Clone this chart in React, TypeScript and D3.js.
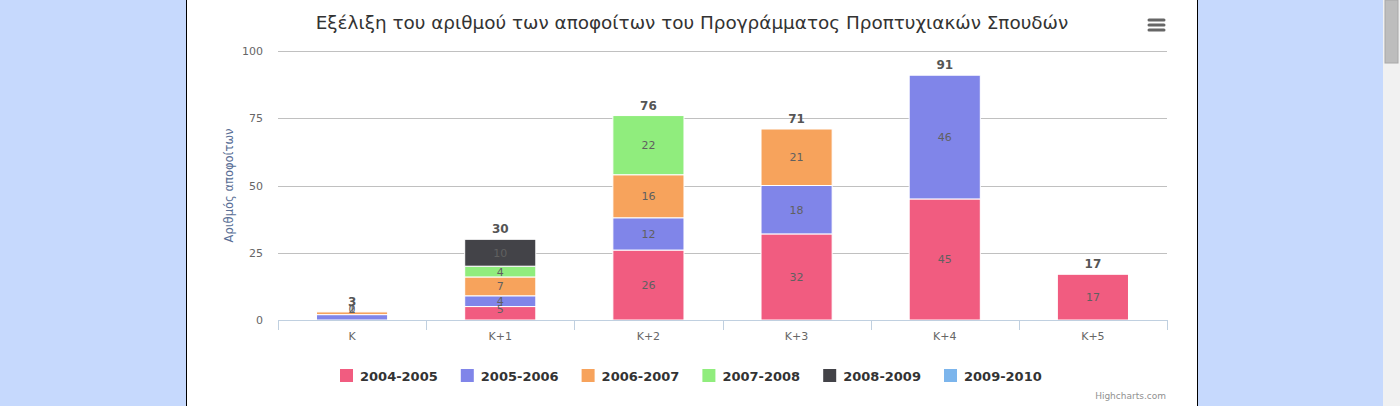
import React, { useEffect, useRef } from 'react';
import * as d3 from 'd3';

// categories on the x axis
const categories = ['K', 'K+1', 'K+2', 'K+3', 'K+4', 'K+5'];

// one array per graduation year, null = no data
const series2004 = [0, 5, 26, 32, 45, 17];
const series2005 = [2, 4, 12, 18, 46, null];
const series2006 = [1, 7, 16, 21, null, null];
const series2007 = [null, 4, 22, null, null, null];
const series2008 = [null, 10, null, null, null, null];
const series2009 = [null, null, null, null, null, null];

const seriesNames = ['2004-2005', '2005-2006', '2006-2007', '2007-2008', '2008-2009', '2009-2010'];
const seriesColors = ['#f15c80', '#8085e9', '#f7a35c', '#90ed7d', '#434348', '#7cb5ec'];
const yTicks = [0, 25, 50, 75, 100];

const titleText = 'Εξέλιξη του αριθμού των αποφοίτων του Προγράμματος Προπτυχιακών Σπουδών';
const yTitle = 'Αριθμός αποφοίτων';

export default function App() {
    const ref = useRef<SVGSVGElement | null>(null);

    useEffect(() => {
        const svg = d3.select(ref.current);
        svg.selectAll('*').remove();
        const font = '"DejaVu Sans", Verdana, sans-serif';

        // page background + white panel
        svg.append('rect').attr('width', 1400).attr('height', 406).attr('fill', '#c6d9fd');
        svg.append('rect').attr('x', 186).attr('width', 1012).attr('height', 406).attr('fill', '#fff');
        svg.append('line').attr('x1', 186.5).attr('x2', 186.5).attr('y1', 0).attr('y2', 406).attr('stroke', '#000');
        svg.append('line').attr('x1', 1197.5).attr('x2', 1197.5).attr('y1', 0).attr('y2', 406).attr('stroke', '#000');

        // fake scrollbar
        svg.append('rect').attr('x', 1383).attr('width', 17).attr('height', 406).attr('fill', '#f1f1f1');
        svg.append('rect').attr('x', 1385).attr('y', 0).attr('width', 13).attr('height', 63)
            .attr('fill', '#bdbdbd').attr('stroke', '#a8a8a8');

        const allSeries = [series2004, series2005, series2006, series2007, series2008, series2009];
        const rows = categories.map((c, i) => {
            const r: any = { cat: c };
            seriesNames.forEach((s, j) => { r[s] = allSeries[j][i] == null ? 0 : allSeries[j][i]; });
            return r;
        });

        const margin = { left: 278, right: 233, top: 51, bottom: 86 };
        const width = 1400 - margin.left - margin.right;
        const height = 406 - margin.top - margin.bottom;

        const x = d3.scaleBand().domain(categories).range([0, width]).paddingInner(0).paddingOuter(0);
        const y = d3.scaleLinear().domain([0, 100]).range([height, 0]);
        const barW = x.bandwidth() * 0.48;

        const g = svg.append('g').attr('transform', 'translate(' + margin.left + ',' + margin.top + ')');

        // grid lines
        g.selectAll('.grid').data(yTicks.slice(1)).enter().append('line')
            .attr('x1', 0).attr('x2', width)
            .attr('y1', d => Math.round(y(d)) + 0.5).attr('y2', d => Math.round(y(d)) + 0.5)
            .attr('stroke', '#c0c0c0');

        // y labels
        g.selectAll('.ylab').data(yTicks).enter().append('text')
            .attr('x', -15).attr('y', d => y(d) + 4)
            .attr('text-anchor', 'end').attr('font-family', font).attr('font-size', 11).attr('fill', '#666')
            .text(d => d);

        // y title
        g.append('text')
            .attr('transform', 'translate(-45,' + (height / 2) + ') rotate(-90)')
            .attr('text-anchor', 'middle').attr('font-family', font).attr('font-size', 11.5).attr('fill', '#5a6f96')
            .text(yTitle);

        // stacked bars
        const stacked = d3.stack().keys(seriesNames)(rows);
        stacked.forEach((layer: any, j) => {
            g.selectAll('.bar' + j).data(layer).enter().append('rect')
                .attr('x', (d: any) => x(d.data.cat)! + (x.bandwidth() - barW) / 2)
                .attr('y', (d: any) => y(d[1]))
                .attr('width', barW)
                .attr('height', (d: any) => Math.max(0, y(d[0]) - y(d[1])))
                .attr('fill', seriesColors[j])
                .attr('stroke', (d: any) => d[1] - d[0] > 0 ? '#fff' : 'none')
                .attr('stroke-width', 1);
        });

        // labels inside segments
        stacked.forEach((layer: any, j) => {
            const vals = allSeries[j];
            g.selectAll('.lab' + j).data(layer.filter((d: any, i: number) => vals[i] != null)).enter().append('text')
                .attr('x', (d: any) => x(d.data.cat)! + x.bandwidth() / 2)
                .attr('y', (d: any) => Math.min((y(d[0]) + y(d[1])) / 2 + 4, y(0) - 7))
                .attr('text-anchor', 'middle').attr('font-family', font).attr('font-size', 11).attr('fill', '#606060')
                .text((d: any) => d[1] - d[0]);
        });

        // axis line and ticks
        g.append('line').attr('x1', 0).attr('x2', width).attr('y1', height + 0.5).attr('y2', height + 0.5)
            .attr('stroke', '#c0d0e0');
        const tickPos = categories.map(c => x(c)!).concat([width]);
        g.selectAll('.tick').data(tickPos).enter().append('line')
            .attr('x1', d => Math.round(d) + 0.5).attr('x2', d => Math.round(d) + 0.5)
            .attr('y1', height).attr('y2', height + 10).attr('stroke', '#c0d0e0');
        g.selectAll('.xlab').data(categories).enter().append('text')
            .attr('x', d => x(d)! + x.bandwidth() / 2).attr('y', height + 20)
            .attr('text-anchor', 'middle').attr('font-family', font).attr('font-size', 11).attr('fill', '#666')
            .text(d => d);

        // stack totals
        g.selectAll('.total').data(rows).enter().append('text')
            .attr('x', (d: any) => x(d.cat)! + x.bandwidth() / 2)
            .attr('y', (d: any) => y(d3.sum(seriesNames, s => d[s])) - 6)
            .attr('text-anchor', 'middle').attr('font-family', font).attr('font-size', 12)
            .attr('font-weight', 'bold').attr('fill', '#555')
            .text((d: any) => d3.sum(seriesNames, s => d[s]));

        // title
        svg.append('text').attr('x', 692).attr('y', 29).attr('text-anchor', 'middle')
            .attr('font-family', font).attr('font-size', 18.4).attr('fill', '#333').text(titleText);

        // menu icon
        [20, 25, 30].forEach(yy => {
            svg.append('line').attr('x1', 1149).attr('x2', 1164).attr('y1', yy).attr('y2', yy)
                .attr('stroke', '#666').attr('stroke-width', 3).attr('stroke-linecap', 'round');
        });

        // legend
        const legend = svg.append('g').attr('transform', 'translate(340,369)');
        seriesNames.forEach((s, i) => {
            const item = legend.append('g').attr('transform', 'translate(' + (i * 120.8) + ',0)');
            item.append('rect').attr('width', 13).attr('height', 13).attr('fill', seriesColors[i]);
            item.append('text').attr('x', 20).attr('y', 11.5).attr('font-family', font).attr('font-size', 13)
                .attr('font-weight', 'bold').attr('fill', '#333').text(s);
        });

        // credits
        svg.append('text').attr('x', 1166).attr('y', 399).attr('text-anchor', 'end')
            .attr('font-family', font).attr('font-size', 9).attr('fill', '#909090').text('Highcharts.com');
    }, []);

    return (
        <svg ref={ref} width={1400} height={406} style={{ position: 'fixed', left: 0, top: 0 }} />
    );
}
